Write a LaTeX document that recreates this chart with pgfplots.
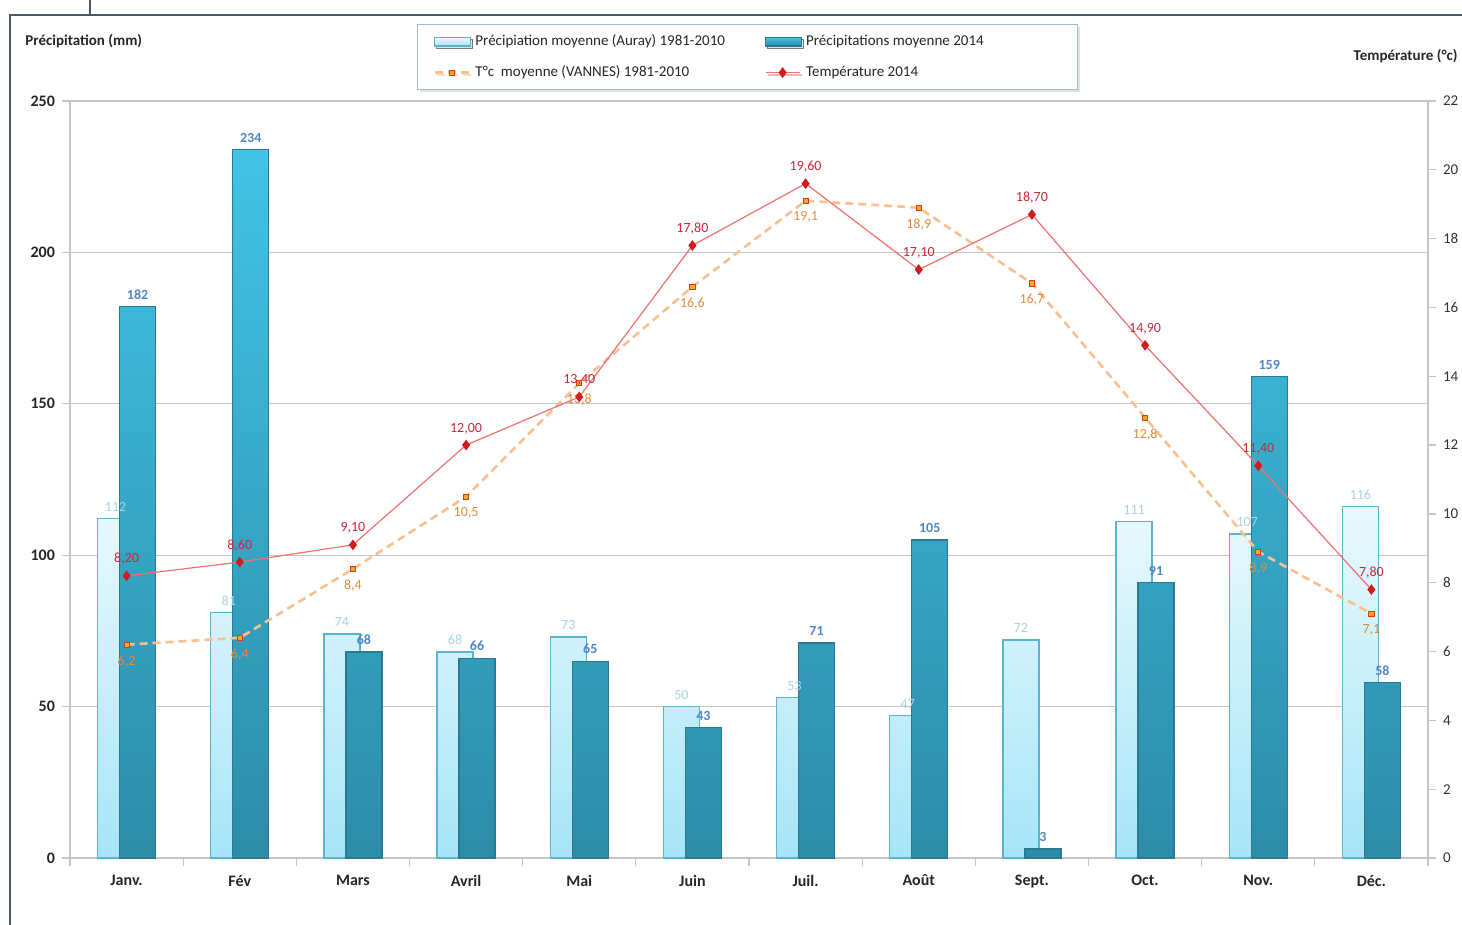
\documentclass[border=0pt]{standalone}
\usepackage{pgfplots}
\pgfplotsset{compat=1.18}
\usepackage{fontspec}
\setmainfont{Carlito}
\usetikzlibrary{shadows}
\definecolor{lighttop}{HTML}{EAF9FD}
\definecolor{lightbot}{HTML}{A6E5F7}
\definecolor{lightedge}{HTML}{5DB3CB}
\definecolor{darktop}{HTML}{42C3E6}
\definecolor{darkbot}{HTML}{2C8CA8}
\definecolor{darkedge}{HTML}{2A7A92}
\definecolor{redline}{HTML}{F27070}
\definecolor{redmark}{HTML}{D01C1F}
\definecolor{redlab}{HTML}{C8283A}
\definecolor{orline}{HTML}{FAC08F}
\definecolor{ormark}{HTML}{F5A623}
\definecolor{orlab}{HTML}{E38B3A}
\definecolor{lightlab}{HTML}{A8D3E6}
\definecolor{darklab}{HTML}{4E87C9}
\definecolor{gridc}{HTML}{C6C6C6}
\definecolor{legc}{HTML}{9DB9DC}
\definecolor{framec}{HTML}{4A5868}
\begin{document}
\begin{tikzpicture}
\useasboundingbox (-35pt,-33.5pt) rectangle (696pt,429pt);
\draw[framec, line width=0.8pt] (-30pt,-40pt) -- (-30pt,421.5pt) -- (700pt,421.5pt);
\draw[framec, line width=0.8pt] (10pt,429pt) -- (10pt,421.5pt);
\begin{axis}[
  at={(0pt,0pt)}, anchor=south west,
  scale only axis, width=679pt, height=378.5pt,
  xmin=-0.5, xmax=11.5, ymin=0, ymax=250,
  ytick={0,50,...,250},
  ymajorgrids, grid style={gridc, line width=0.6pt},
  axis x line*=bottom, axis y line*=left,
  axis line style={gridc, line width=0.6pt},
  xtick={0,...,11},
  xticklabels={Janv.,Fév,Mars,Avril,Mai,Juin,Juil.,Août,Sept.,Oct.,Nov.,Déc.},
  major x tick style={draw=none},
  minor xtick={-0.5,0.5,...,11.5},
  minor tick length=4pt, major tick length=4pt,
  tick align=outside,
  tick style={gridc, line width=0.6pt},
  x tick label style={font=\fontsize{8}{9}\selectfont\bfseries, text=black!85, yshift=-1pt},
  y tick label style={font=\fontsize{8}{9}\selectfont\bfseries, text=black!85},
  /pgf/number format/assume math mode=true,
  clip=false,
]
\addplot[ybar, bar width=18pt, bar shift=-5.5pt,
  top color=lighttop, bottom color=lightbot, draw=lightedge, line width=0.6pt,
  nodes near coords,
  every node near coord/.append style={font=\fontsize{7}{8}\selectfont, text=lightlab, xshift=-5.5pt}]
  coordinates {(0,112) (1,81) (2,74) (3,68) (4,73) (5,50) (6,53) (7,47) (8,72) (9,111) (10,107) (11,116)};
\addplot[ybar, bar width=18pt, bar shift=5.5pt,
  top color=darktop, bottom color=darkbot, draw=darkedge, line width=0.6pt,
  nodes near coords,
  every node near coord/.append style={font=\fontsize{7}{8}\selectfont\bfseries, text=darklab, xshift=5.5pt}]
  coordinates {(0,182) (1,234) (2,68) (3,66) (4,65) (5,43) (6,71) (7,105) (8,3) (9,91) (10,159) (11,58)};
\end{axis}
\begin{axis}[
  at={(0pt,0pt)}, anchor=south west,
  scale only axis, width=679pt, height=378.5pt,
  xmin=-0.5, xmax=11.5, ymin=0, ymax=22,
  ytick={0,2,...,22},
  axis x line=none, axis y line*=right,
  axis line style={gridc, line width=0.6pt},
  tick align=outside, major tick length=4pt,
  tick style={gridc, line width=0.6pt},
  y tick label style={font=\fontsize{7.5}{9}\selectfont, text=black!80},
  /pgf/number format/assume math mode=true,
  clip=false,
  legend columns=2,
  legend cell align=left,
  legend style={at={(axis description cs:0.2555,1.1017)}, anchor=north west,
    draw=legc, line width=0.6pt, fill=white,
    drop shadow={shadow xshift=1pt, shadow yshift=-1.2pt, fill=gray!45},
    font=\fontsize{7.5}{9}\selectfont, text=black!85,
    inner xsep=8pt, inner ysep=3pt, row sep=4.5pt,
    /tikz/every even column/.append style={column sep=18pt}},
]
\addlegendimage{legend image code/.code={\draw[top color=lighttop, bottom color=lightbot, draw=lightedge, line width=0.6pt] (0pt,-2.2pt) rectangle (18pt,2.2pt);}}
\addlegendentry{Précipiation moyenne (Auray) 1981-2010}
\addlegendimage{legend image code/.code={\draw[top color=darktop, bottom color=darkbot, draw=darkedge, line width=0.6pt] (0pt,-2.2pt) rectangle (18pt,2.2pt);}}
\addlegendentry{Précipitations moyenne 2014\hspace*{37pt}}
\addplot[orline, line width=1.3pt, dash pattern=on 4pt off 2.5pt,
  mark=square*, mark size=1.3pt, mark options={solid, fill=ormark, draw=redmark!70!orange, line width=0.4pt},
  nodes near coords={\pgfmathprintnumber[fixed,fixed zerofill,precision=1,use comma,assume math mode=true]{\pgfplotspointmeta}},
  nodes near coords align={below},
  every node near coord/.append style={font=\fontsize{7}{8}\selectfont, text=orlab, yshift=-2pt}]
  coordinates {(0,6.2) (1,6.4) (2,8.4) (3,10.5) (4,13.8) (5,16.6) (6,19.1) (7,18.9) (8,16.7) (9,12.8) (10,8.9) (11,7.1)};
\addlegendentry{T°c\ \ moyenne (VANNES) 1981-2010}
\addplot[redline, line width=0.6pt,
  mark=diamond*, mark size=2.2pt, mark options={fill=redmark, draw=redmark},
  nodes near coords={\pgfmathprintnumber[fixed,fixed zerofill,precision=2,use comma,assume math mode=true]{\pgfplotspointmeta}},
  nodes near coords align={above},
  every node near coord/.append style={font=\fontsize{7}{8}\selectfont, text=redlab, yshift=2pt}]
  coordinates {(0,8.2) (1,8.6) (2,9.1) (3,12.0) (4,13.4) (5,17.8) (6,19.6) (7,17.1) (8,18.7) (9,14.9) (10,11.4) (11,7.8)};
\addlegendentry{Température 2014}
\end{axis}
\node[anchor=west, inner sep=0pt, font=\fontsize{7.5}{9}\selectfont\bfseries, text=black!85] at (-22.5pt,408.5pt) {Précipitation (mm)};
\node[anchor=east, inner sep=0pt, font=\fontsize{7.5}{9}\selectfont\bfseries, text=black!85] at (694pt,401pt) {Température (°c)};
\end{tikzpicture}
\end{document}
